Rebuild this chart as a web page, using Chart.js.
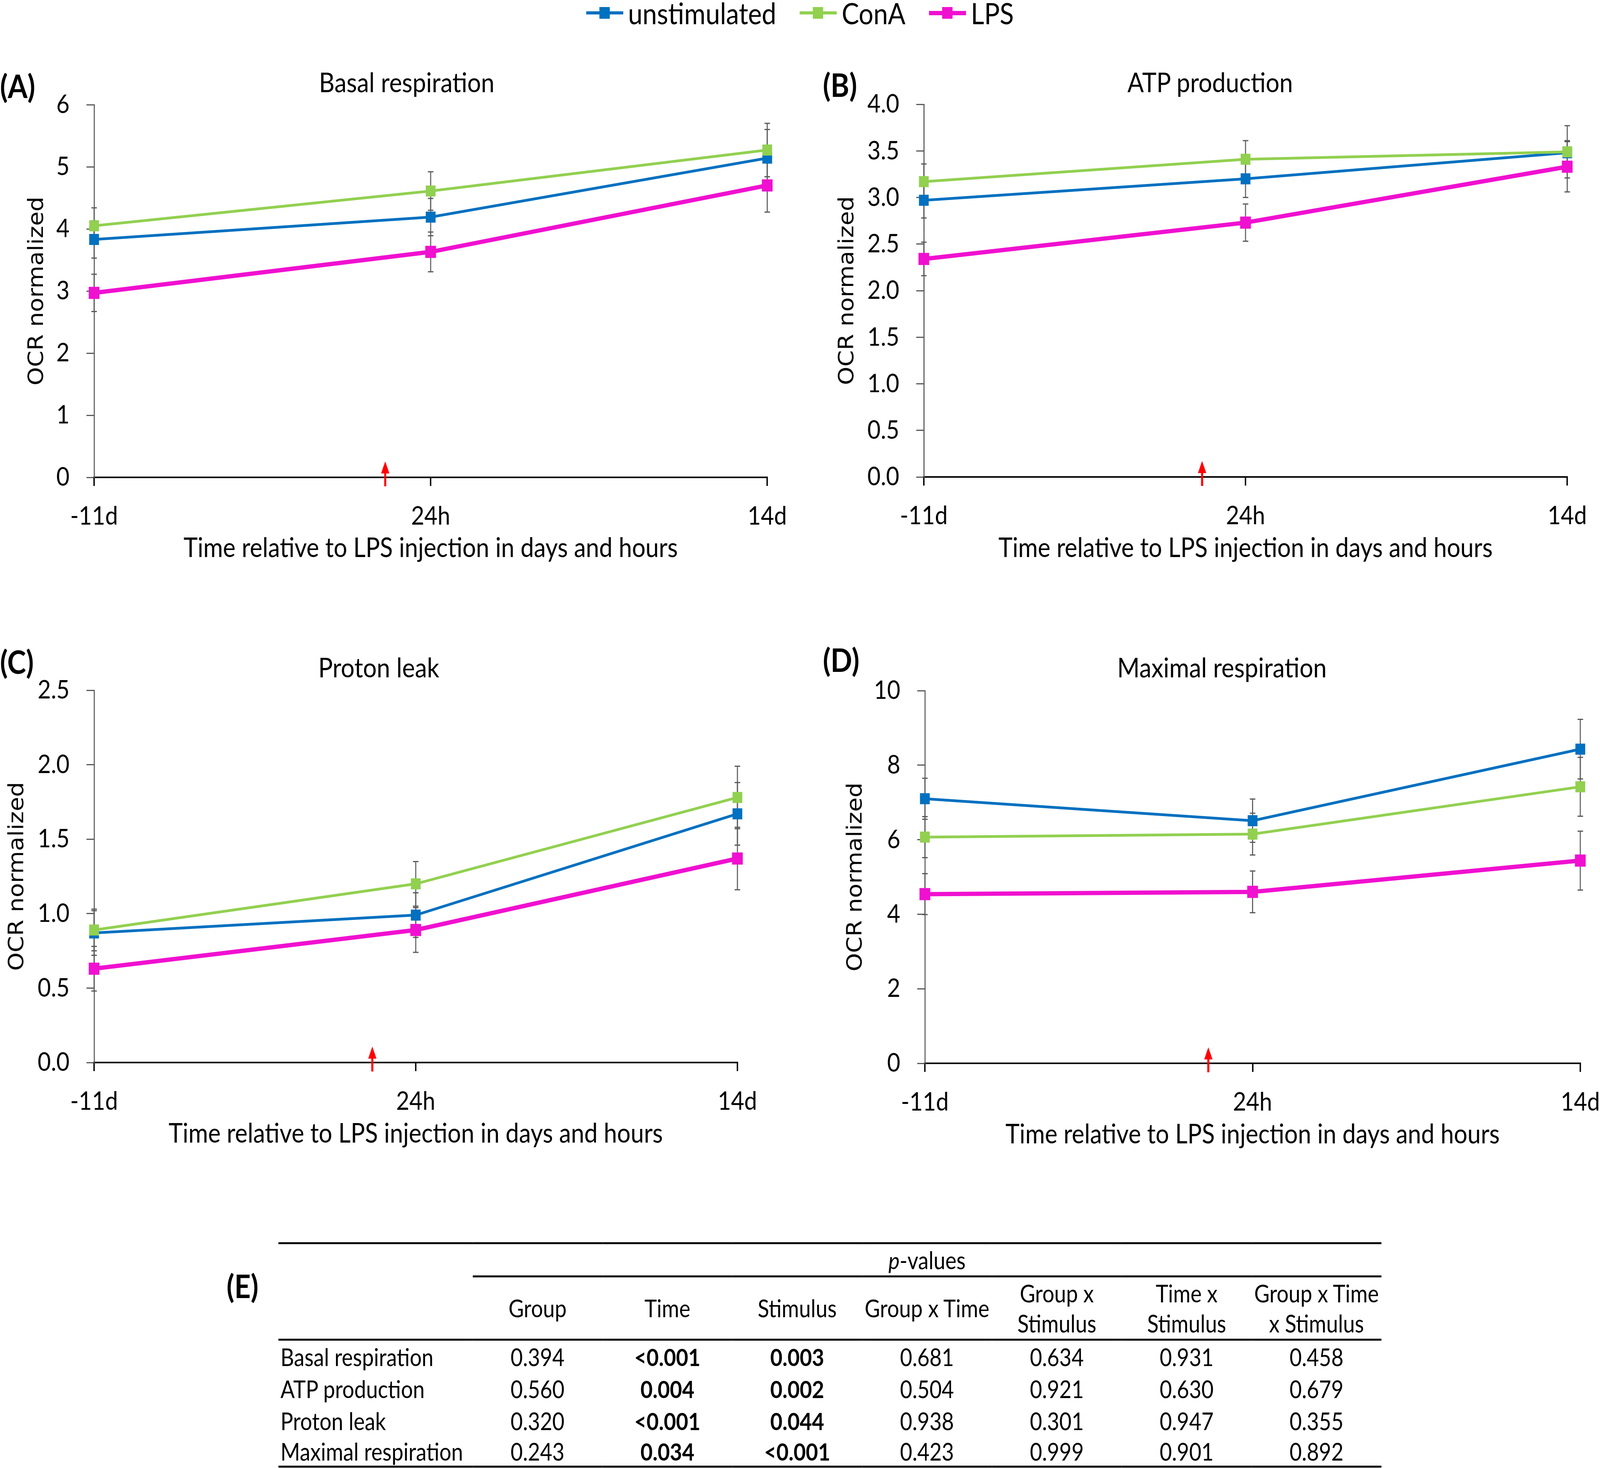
<!DOCTYPE html>
<html>
<head>
<meta charset="utf-8">
<script src="https://cdn.jsdelivr.net/npm/chart.js@4.4.1/dist/chart.umd.min.js"></script>
<style>
html, body { margin: 0; padding: 0; background: #fff; overflow: hidden; }
body { width: 100vw; height: 100vh; position: relative; font-family: Lato, 'Noto Sans', sans-serif; color: #000; }
#page { position: absolute; left: 0; top: 0; width: 4626px; height: 3758px; overflow: hidden; transform-origin: 0 0; background: #fff; }
canvas { position: absolute; }
.ptitle { position: absolute; transform: translate(-50%, -50%); white-space: nowrap; line-height: 1; font-size: 70px; }
.letter { position: absolute; transform: translateY(-50%); font-weight: bold; font-size: 82px; line-height: 1; }
#legend { position: absolute; left: 0; top: 0; width: 4626px; height: 66px; display: flex; justify-content: center; align-items: center; }
.litem { display: inline-flex; align-items: center; margin: 0 34px; font-size: 75px; line-height: 1; }
.lmark { position: relative; width: 107px; margin-right: 14px; }
.lmark span { position: absolute; left: 38px; top: 50%; width: 30px; height: 30px; transform: translateY(-50%); }
#ptable { position: absolute; left: 805px; top: 3180px; width: 3189px; border-collapse: collapse; font-size: 61px; line-height: 1; }
#ptable td { padding: 0; text-align: center; vertical-align: middle; width: 375px; }
#ptable td.rowname { text-align: left; padding-left: 6px; width: 555px; }
#ptable tr.pv td { height: 80px; border-top: 5px solid #000; }
#ptable tr.pv td.pvcell { border-bottom: 5px solid #000; }
#ptable tr.head td { height: 157px; border-bottom: 5px solid #000; line-height: 77px; }
#ptable tr.data td { height: 82px; }
#ptable tr.data.last td { border-bottom: 5px solid #000; height: 74px; }
</style>
</head>
<body>
<div id="page">
<div id="legend"></div>

<canvas id="chartA" width="2313" height="1340" style="left:0px; top:140px;"></canvas>
<canvas id="chartB" width="2313" height="1340" style="left:2313px; top:140px;"></canvas>
<canvas id="chartC" width="2313" height="1360" style="left:0px; top:1640px;"></canvas>
<canvas id="chartD" width="2400" height="1360" style="left:2313px; top:1640px;"></canvas>

<div class="letter" style="left:0px; top:219px;">(A)</div>
<div class="letter" style="left:2379px; top:216px;">(B)</div>
<div class="letter" style="left:0px; top:1693px;">(C)</div>
<div class="letter" style="left:2379px; top:1688px;">(D)</div>
<div class="letter" style="left:655px; top:3291px;">(E)</div>

<div class="ptitle" style="left:1176px; top:209px;">Basal respiration</div>
<div class="ptitle" style="left:3499px; top:209px;">ATP production</div>
<div class="ptitle" style="left:1095px; top:1707px;">Proton leak</div>
<div class="ptitle" style="left:3533px; top:1707px;">Maximal respiration</div>

<table id="ptable"></table>
</div>

<script>
// time points and series
const timeLabels = ['-11d', '24h', '14d'];
const seriesNames = ['unstimulated', 'ConA', 'LPS'];
const seriesColors = ['#0070C0', '#92D050', '#F010D0'];

// means per series: [unstimulated, ConA, LPS]
const basalMeans = [[3.83, 4.19, 5.14], [4.05, 4.61, 5.27], [2.97, 3.63, 4.70]];
const basalErrors = [[0.30, 0.30, 0.46], [0.29, 0.31, 0.43], [0.30, 0.32, 0.43]];

const atpMeans = [[2.97, 3.20, 3.48], [3.17, 3.41, 3.49], [2.34, 2.73, 3.33]];
const atpErrors = [[0.19, 0.20, 0.13], [0.19, 0.20, 0.28], [0.18, 0.20, 0.27]];

const leakMeans = [[0.87, 0.99, 1.67], [0.89, 1.20, 1.78], [0.63, 0.89, 1.37]];
const leakErrors = [[0.15, 0.15, 0.21], [0.14, 0.15, 0.21], [0.15, 0.15, 0.21]];

const maxMeans = [[7.10, 6.51, 8.43], [6.07, 6.15, 7.42], [4.54, 4.60, 5.44]];
const maxErrors = [[0.55, 0.58, 0.80], [0.55, 0.56, 0.79], [0.55, 0.56, 0.79]];

// LPS injection, in category units between -11d and 24h
const lpsInjectionAt = 0.865;

// p-value table
const tableRows = ['Basal respiration', 'ATP production', 'Proton leak', 'Maximal respiration'];
const tableHeaders = ['Group', 'Time', 'Stimulus', 'Group x Time', 'Group x\nStimulus', 'Time x\nStimulus', 'Group x Time\nx Stimulus'];
const pValues = [
    ['0.394', '<0.001', '0.003', '0.681', '0.634', '0.931', '0.458'],
    ['0.560', '0.004', '0.002', '0.504', '0.921', '0.630', '0.679'],
    ['0.320', '<0.001', '0.044', '0.938', '0.301', '0.947', '0.355'],
    ['0.243', '0.034', '<0.001', '0.423', '0.999', '0.901', '0.892']
];

const xTitle = 'Time relative to LPS injection in days and hours';
const yTitle = 'OCR normalized';

// the figure is laid out at 4626x3758 and fitted to whatever window we get
const page = document.getElementById('page');
page.style.transform = 'scale(' + (window.innerWidth / 4626) + ',' + (window.innerHeight / 3758) + ')';

Chart.defaults.font.family = 'Lato';
Chart.defaults.color = '#000';

const errorBars = {
    id: 'errorBars',
    beforeDatasetsDraw(chart) {
        const ctx = chart.ctx;
        const y = chart.scales.y;
        ctx.save();
        ctx.strokeStyle = '#595959';
        ctx.lineWidth = 3;
        chart.data.datasets.forEach((ds, i) => {
            chart.getDatasetMeta(i).data.forEach((pt, j) => {
                const top = y.getPixelForValue(ds.data[j] + ds.errors[j]);
                const bot = y.getPixelForValue(ds.data[j] - ds.errors[j]);
                ctx.beginPath();
                ctx.moveTo(pt.x, top); ctx.lineTo(pt.x, bot);
                ctx.moveTo(pt.x - 8, top); ctx.lineTo(pt.x + 8, top);
                ctx.moveTo(pt.x - 8, bot); ctx.lineTo(pt.x + 8, bot);
                ctx.stroke();
            });
        });
        ctx.restore();
    }
};

const injectionArrow = {
    id: 'injectionArrow',
    afterDraw(chart) {
        const ctx = chart.ctx;
        const x = chart.scales.x.getPixelForValue(lpsInjectionAt);
        const y0 = chart.scales.y.getPixelForValue(0);
        ctx.save();
        ctx.strokeStyle = '#FF0000';
        ctx.fillStyle = '#FF0000';
        ctx.lineWidth = 6;
        ctx.beginPath();
        ctx.moveTo(x, y0 + 23);
        ctx.lineTo(x, y0 - 16);
        ctx.stroke();
        ctx.beginPath();
        ctx.moveTo(x, y0 - 41);
        ctx.lineTo(x - 12, y0 - 10);
        ctx.lineTo(x + 12, y0 - 10);
        ctx.closePath();
        ctx.fill();
        ctx.restore();
    }
};

function buildPanel(id, means, errors, yMax, yStep, decimals, frame) {
    new Chart(document.getElementById(id), {
        type: 'line',
        data: {
            labels: timeLabels,
            datasets: seriesNames.map((name, i) => ({
                label: name,
                data: means[i],
                errors: errors[i],
                borderColor: seriesColors[i],
                backgroundColor: seriesColors[i],
                borderWidth: i === 2 ? 11 : 7,
                pointStyle: 'rect',
                pointRadius: i === 2 ? 22 : 20,
                pointBorderWidth: 0,
                tension: 0,
                clip: false,
                order: 2 - i
            }))
        },
        options: {
            responsive: false,
            animation: false,
            devicePixelRatio: 1,
            events: [],
            layout: {
                padding: { top: frame.padTop, right: frame.padRight, left: 0, bottom: 0 }
            },
            plugins: {
                legend: { display: false },
                tooltip: { enabled: false }
            },
            scales: {
                x: {
                    offset: false,
                    grid: { drawOnChartArea: false, drawTicks: true, tickLength: 22, color: '#000', lineWidth: 4 },
                    border: { color: '#000', width: 4 },
                    ticks: { font: { size: 66 }, color: '#000', padding: 38, maxRotation: 0, autoSkip: false },
                    title: { display: true, text: xTitle, font: { size: 69 }, color: '#000', padding: { top: 0, bottom: frame.xTitlePad } },
                    afterFit: function(scale) { scale.height = frame.xHeight; }
                },
                y: {
                    min: 0,
                    max: yMax,
                    ticks: {
                        stepSize: yStep,
                        font: { size: 66 },
                        color: '#000',
                        padding: 49,
                        callback: v => v.toFixed(decimals)
                    },
                    grid: { drawOnChartArea: false, drawTicks: true, tickLength: 22, color: '#595959', lineWidth: 3 },
                    border: { color: '#595959', width: 3 },
                    title: { display: true, text: yTitle, font: { family: 'DejaVu Sans', size: 60 }, color: '#000', padding: { top: frame.yTitlePad, bottom: 0 } },
                    afterFit: function(scale) { scale.width = frame.yWidth; }
                }
            }
        },
        plugins: [errorBars, injectionArrow]
    });
}

buildPanel('chartA', basalMeans, basalErrors, 6, 1, 0,
    { padTop: 128, padRight: 93, xHeight: 258, yWidth: 272, yTitlePad: 72, xTitlePad: 35 });
buildPanel('chartB', atpMeans, atpErrors, 4, 0.5, 1,
    { padTop: 127, padRight: 80, xHeight: 259, yWidth: 358, yTitlePad: 102, xTitlePad: 35 });
buildPanel('chartC', leakMeans, leakErrors, 2.5, 0.5, 1,
    { padTop: 127, padRight: 181, xHeight: 280, yWidth: 272, yTitlePad: 15, xTitlePad: 56 });
buildPanel('chartD', maxMeans, maxErrors, 10, 2, 0,
    { padTop: 128, padRight: 144, xHeight: 278, yWidth: 361, yTitlePad: 126, xTitlePad: 54 });

// legend
const legend = document.getElementById('legend');
seriesNames.forEach((name, i) => {
    const item = document.createElement('div');
    item.className = 'litem';
    const mark = document.createElement('div');
    mark.className = 'lmark';
    mark.style.height = (i === 2 ? 11 : 8) + 'px';
    mark.style.background = seriesColors[i];
    const sq = document.createElement('span');
    sq.style.background = seriesColors[i];
    mark.appendChild(sq);
    const txt = document.createElement('span');
    txt.textContent = name;
    item.appendChild(mark);
    item.appendChild(txt);
    legend.appendChild(item);
});

// p-value table
const table = document.getElementById('ptable');
function addRow(cls) {
    const tr = document.createElement('tr');
    tr.className = cls;
    table.appendChild(tr);
    return tr;
}
function addCell(tr, text, cls) {
    const td = document.createElement('td');
    if (cls) td.className = cls;
    td.textContent = text;
    tr.appendChild(td);
    return td;
}
const pvRow = addRow('pv');
addCell(pvRow, '', 'rowname');
const pvCell = addCell(pvRow, '', 'pvcell');
pvCell.colSpan = tableHeaders.length;
pvCell.innerHTML = '<i>p</i>-values';

const headRow = addRow('head');
addCell(headRow, '', 'rowname');
tableHeaders.forEach(h => {
    const td = addCell(headRow, '');
    td.innerHTML = h.split('\n').join('<br>');
});

tableRows.forEach((name, r) => {
    const tr = addRow(r === tableRows.length - 1 ? 'data last' : 'data');
    addCell(tr, name, 'rowname');
    pValues[r].forEach(v => {
        const td = addCell(tr, v);
        if (v.startsWith('<') || parseFloat(v) < 0.05) td.style.fontWeight = 'bold';
    });
});
</script>
</body>
</html>
